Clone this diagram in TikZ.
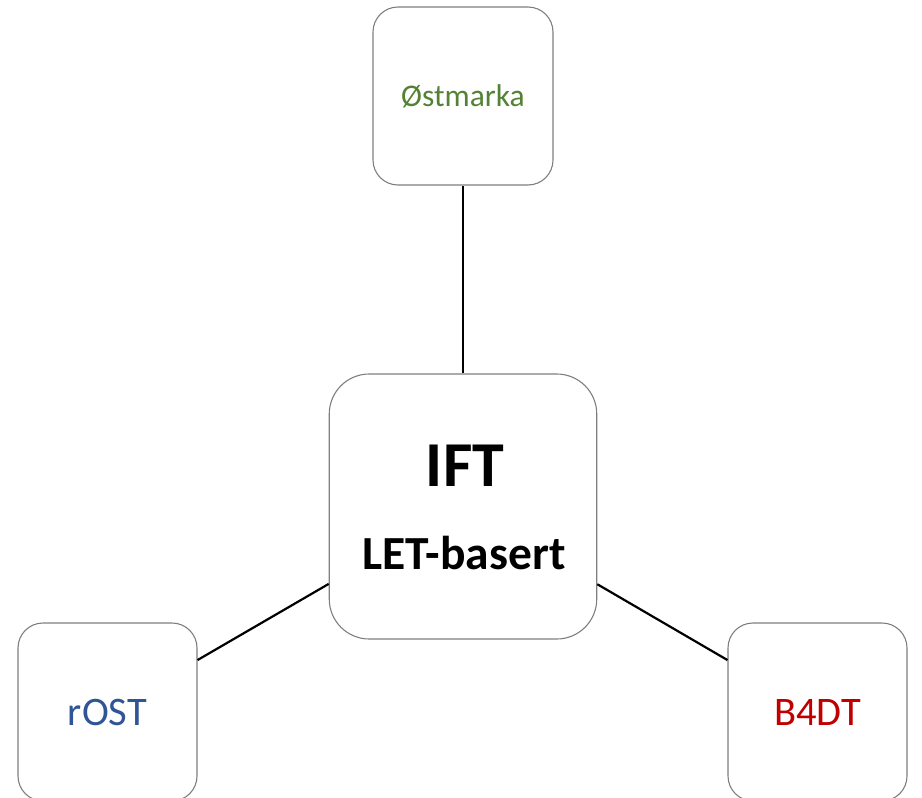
\documentclass[tikz,border=0pt]{standalone}
\usepackage{fontspec}
\setmainfont{Carlito}
\definecolor{boxgray}{HTML}{7F7F7F}
\definecolor{ostgreen}{HTML}{548235}
\definecolor{rostblue}{HTML}{2F5597}
\definecolor{bdtred}{HTML}{C00000}
\begin{document}
\begin{tikzpicture}[x=1pt,y=-1pt,
  box/.style={draw=boxgray, line width=1.1pt, fill=white, rounded corners=25pt,
    minimum width=180pt, minimum height=178pt, inner sep=0pt},
  hub/.style={box, rounded corners=40pt, minimum width=267.5pt, minimum height=265pt},
  link/.style={line width=2.2pt, black},
  small/.style={font=\fontsize{31.5}{37}\selectfont},
  large/.style={font=\fontsize{40.5}{48}\selectfont}]
\useasboundingbox (0,0) rectangle (922,798);
\clip (0,0) rectangle (922,798);

% outer boxes
\node[box, small, text=ostgreen] (ost) at (463,96) {Østmarka};
\node[box, large, text=rostblue, minimum width=179pt] (rost) at (107.5,712) {rOST};
\node[box, large, text=bdtred, minimum width=179pt] (bdt) at (817.5,712) {B4DT};

% central box
\node[hub] (ift) at (463,506.5) {};
\node[anchor=base, font=\bfseries\fontsize{64}{72}\selectfont] (iftname) at (465,486) {IFT};
\node[anchor=base, font=\bfseries\fontsize{47.5}{56}\selectfont] (iftsub) at (464,569) {LET-basert};

% connectors
\draw[link] (ost) -- (ift);
\draw[link] (ift) -- (rost);
\draw[link] (ift) -- (bdt);
\end{tikzpicture}
\end{document}
